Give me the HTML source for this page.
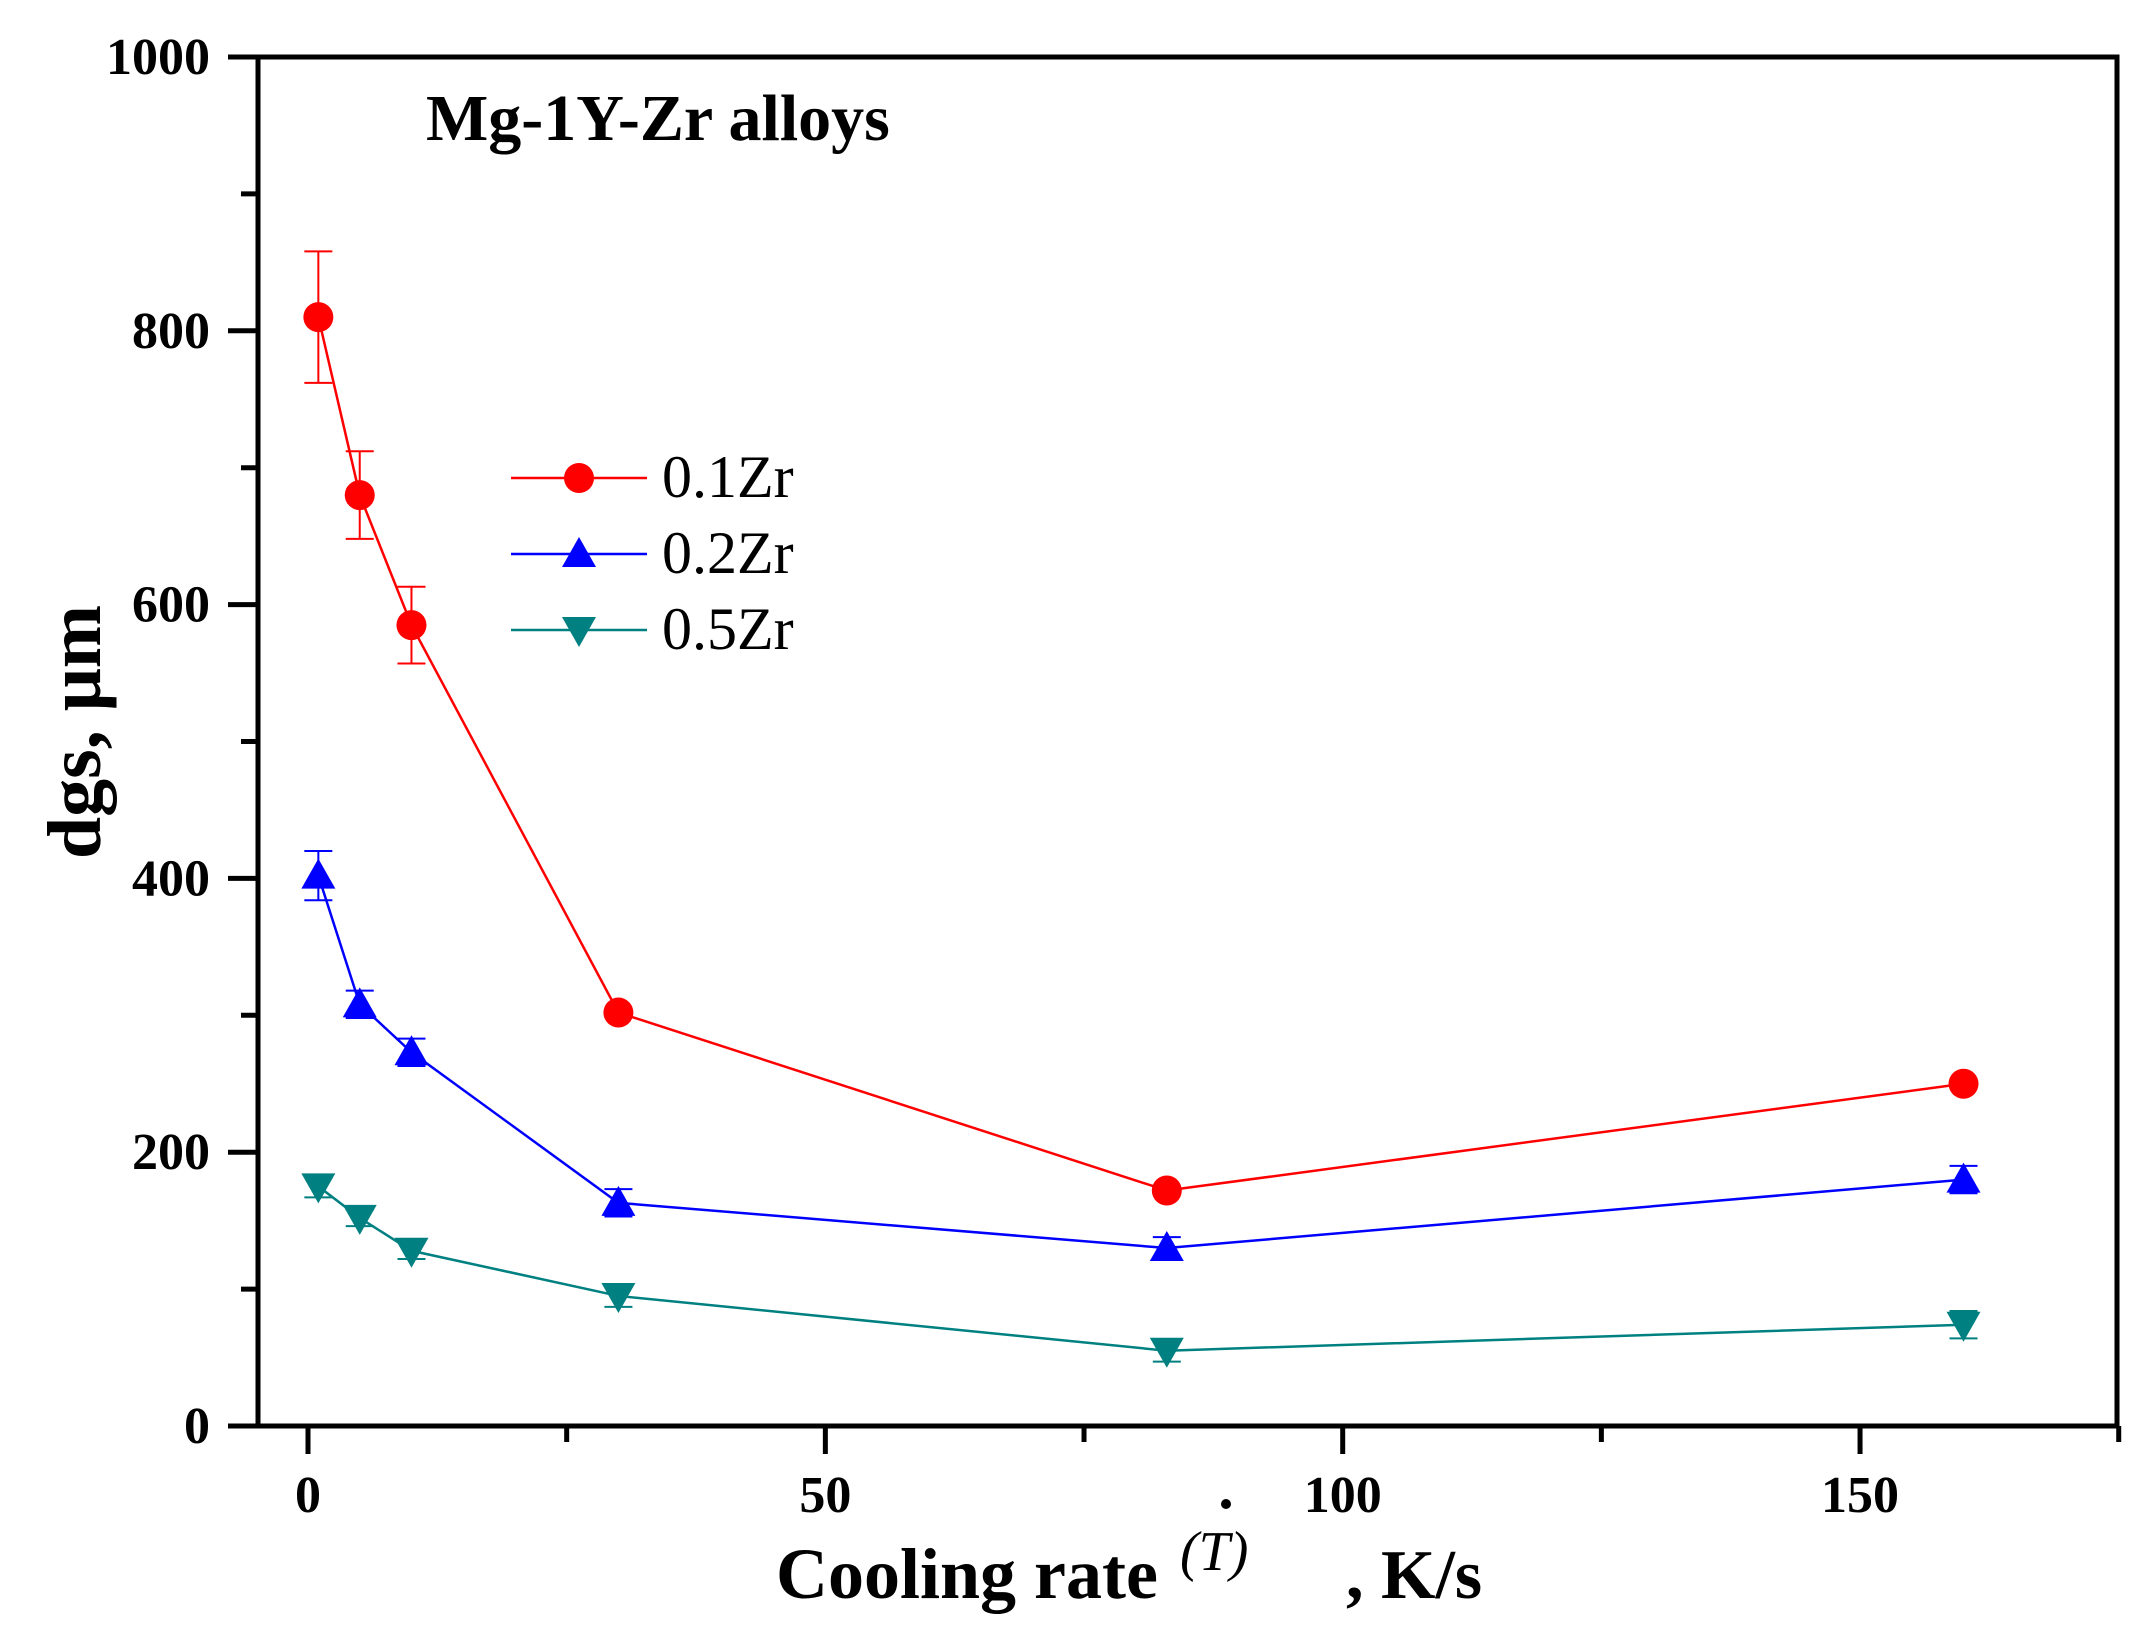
<!DOCTYPE html>
<html><head><meta charset="utf-8"><style>
html,body{margin:0;padding:0;background:#fff;}
svg{display:block;}
</style></head><body>
<svg id="chart" width="2156" height="1628" xmlns="http://www.w3.org/2000/svg" font-family="Liberation Serif, serif"></svg>
<script>
const xData = [1, 5, 10, 30, 83, 160];
const zr01 = [810, 680, 585, 302, 172, 250];
const zr01Err = [48, 32, 28, 0, 0, 0];
const zr02 = [402, 308, 273, 163, 130, 180];
const zr02Err = [18, 10, 10, 10, 8, 10];
const zr05 = [175, 152, 128, 95, 55, 74];
const zr05Err = [8, 6, 6, 8, 8, 10];
const xTicks = [0, 50, 100, 150];
const xMinor = [25, 75, 125, 175];
const yTicks = [0, 200, 400, 600, 800, 1000];
const yMinor = [100, 300, 500, 700, 900];

const L = 258, R = 2117, T = 57, B = 1426;
const x0px = 308, xUnit = 10.347;
const yMin = 0, yMax = 1000;
function xs(v){ return x0px + v * xUnit; }
function ys(v){ return B - (v - yMin) / (yMax - yMin) * (B - T); }

const svg = document.getElementById('chart');
const NS = 'http://www.w3.org/2000/svg';
function el(tag, attrs, parent){
  const e = document.createElementNS(NS, tag);
  for (const k in attrs) e.setAttribute(k, attrs[k]);
  (parent || svg).appendChild(e);
  return e;
}

const frame = el('rect', {x:L, y:T, width:R-L, height:B-T, fill:'none', stroke:'#000', 'stroke-width':5});



yTicks.forEach(v => {
  const t = el('line', {x1:L-30, x2:L, y1:ys(v), y2:ys(v), stroke:'#000', 'stroke-width':5});
  
  
  const lb = el('text', {x:210, y:ys(v)+17, 'text-anchor':'end', 'font-size':52, 'font-weight':'bold'});
  lb.textContent = v;
  
  
});
yMinor.forEach(v => {
  const t = el('line', {x1:L-17, x2:L, y1:ys(v), y2:ys(v), stroke:'#000', 'stroke-width':5});
  
  
});
xTicks.forEach(v => {
  const t = el('line', {x1:xs(v), x2:xs(v), y1:B, y2:B+28, stroke:'#000', 'stroke-width':5});
  
  
  const lb = el('text', {x:xs(v), y:1512, 'text-anchor':'middle', 'font-size':52, 'font-weight':'bold'});
  lb.textContent = v;
  
  
});
xMinor.forEach(v => {
  const t = el('line', {x1:xs(v), x2:xs(v), y1:B, y2:B+16, stroke:'#000', 'stroke-width':5});
  
  
});

function marker(kind, cx, cy, color, parent){
  let m;
  if (kind === 'circle') m = el('circle', {cx:cx, cy:cy, r:15, fill:color}, parent);
  else if (kind === 'up') m = el('polygon', {points:`${cx},${cy-17} ${cx-17},${cy+13} ${cx+17},${cy+13}`, fill:color}, parent);
  else m = el('polygon', {points:`${cx},${cy+17} ${cx-17},${cy-13} ${cx+17},${cy-13}`, fill:color}, parent);
  return m;
}

function series(name, vals, errs, color, kind){
  const g = el('g', {});
  
  
  const pts = vals.map((v,i) => xs(xData[i]) + ',' + ys(v)).join(' ');
  const line = el('polyline', {points:pts, fill:'none', stroke:color, 'stroke-width':2.5}, g);
  
  
  vals.forEach((v,i) => {
    const cx = xs(xData[i]);
    if (errs[i] > 0) {
      const e = el('path', {d:`M${cx},${ys(v+errs[i])}V${ys(v-errs[i])}M${cx-14},${ys(v+errs[i])}H${cx+14}M${cx-14},${ys(v-errs[i])}H${cx+14}`, stroke:color, 'stroke-width':2, fill:'none'}, g);
      
      
    }
    const m = marker(kind, cx, ys(v), color, g);
    
    
  });
}
series('zr01', zr01, zr01Err, '#ff0000', 'circle');
series('zr02', zr02, zr02Err, '#0000ff', 'up');
series('zr05', zr05, zr05Err, '#008080', 'down');

const legendItems = [['0.1Zr', '#ff0000', 'circle', 478], ['0.2Zr', '#0000ff', 'up', 554], ['0.5Zr', '#008080', 'down', 630]];
legendItems.forEach(it => {
  const g = el('g', {});
  
  
  el('line', {x1:511, x2:647, y1:it[3], y2:it[3], stroke:it[1], 'stroke-width':2.5}, g);
  marker(it[2], 579, it[3], it[1], g);
  const t = el('text', {x:662, y:it[3]+19, 'font-size':60}, g);
  t.textContent = it[0];
});

const title = el('text', {x:426, y:140, 'font-size':66, 'font-weight':'bold'});
title.textContent = 'Mg-1Y-Zr alloys';



const yl = el('text', {x:0, y:0, 'font-size':76, 'font-weight':'bold', 'text-anchor':'middle', transform:'translate(100,732) rotate(-90)'});
yl.textContent = 'dgs, μm';



const xl = el('text', {x:776, y:1598, 'font-size':72, 'font-weight':'bold'});
xl.textContent = 'Cooling rate';


const xt = el('text', {x:1180, y:1570, 'font-size':56, 'font-style':'italic'});
xt.textContent = '(T)';


const xu = el('text', {x:1346, y:1598, 'font-size':70, 'font-weight':'bold'});
xu.textContent = ', K/s';


const dot = el('circle', {cx:1226, cy:1504, r:5, fill:'#000'});


</script>
</body></html>
